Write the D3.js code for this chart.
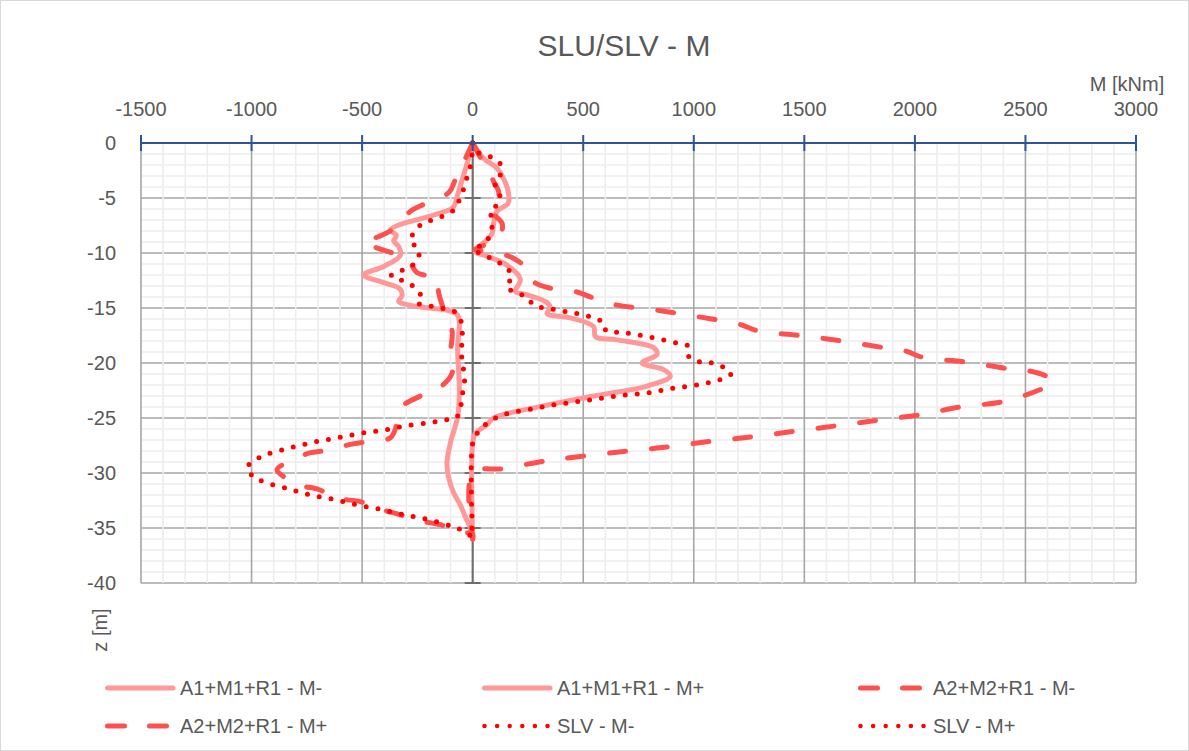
<!DOCTYPE html>
<html>
<head>
<meta charset="utf-8">
<script src="https://cdn.jsdelivr.net/npm/d3@7"></script>
<style>
  html, body { margin: 0; padding: 0; background: #ffffff; }
  svg { display: block; font-family: "Liberation Sans", Arial, sans-serif; }
</style>
</head>
<body>
<svg id="chart" width="1189" height="751"></svg>
<script>
// ---------------- DATA ----------------
const chartTitle = "SLU/SLV - M";
const xAxisTitle = "M [kNm]";
const yAxisTitle = "z [m]";
const xTicks = [-1500, -1000, -500, 0, 500, 1000, 1500, 2000, 2500, 3000];
const yTicks = [0, -5, -10, -15, -20, -25, -30, -35, -40];
const seriesNames = ["A1+M1+R1 - M-", "A1+M1+R1 - M+", "A2+M2+R1 - M-", "A2+M2+R1 - M+", "SLV - M-", "SLV - M+"];

// each point: [M (kNm), z (m)]
const a1Mminus = [[0,0],[-20,-1.5],[-42,-3],[-65,-4.5],[-86,-5.8],[-108,-6.1],[-220,-6.8],[-327,-7.4],[-372,-7.9],[-345,-8.4],[-357,-8.9],[-335,-9.4],[-327,-10.2],[-400,-11.2],[-493,-12.0],[-402,-12.7],[-327,-13.3],[-320,-13.9],[-335,-14.4],[-297,-14.7],[-200,-15.0],[-116,-15.2],[-70,-15.6],[-60,-16.4],[-68,-18.5],[-63,-20.9],[-60,-22.4],[-68,-24.9],[-100,-27.2],[-116,-29.0],[-110,-30.3],[-86,-31.8],[-56,-32.9],[-35,-33.9],[-10,-35.0],[0,-35.5]];
const a1Mplus = [[0,0],[50,-1.4],[110,-2.3],[148,-3.6],[163,-4.7],[160,-5.5],[110,-6.2],[95,-7.3],[88,-8.2],[60,-8.9],[35,-9.3],[12,-9.9],[65,-10.3],[155,-11.1],[216,-12.4],[193,-13.5],[246,-13.8],[336,-14.5],[351,-15.0],[336,-15.5],[442,-15.9],[547,-16.7],[555,-17.6],[653,-17.9],[818,-18.6],[834,-19.2],[766,-20.0],[863,-20.6],[894,-21.2],[788,-22.1],[547,-23.0],[321,-23.9],[95,-25.0],[65,-25.6],[12,-26.4],[0,-27.3],[0,-36]];
const a2Mminus = [[0,0],[-78,-3.3],[-108,-4.5],[-213,-5.5],[-281,-6.2],[-350,-7.7],[-424,-8.5],[-490,-9.0],[-410,-9.7],[-297,-10.5],[-251,-11.8],[-161,-12.3],[-154,-13.6],[-123,-15.6],[-93,-17.1],[-101,-19.2],[-93,-20.9],[-154,-22.3],[-236,-23.0],[-327,-24.1],[-342,-25.5],[-372,-26.8],[-455,-27.1],[-553,-27.4],[-643,-27.9],[-741,-28.2],[-824,-28.9],[-885,-29.7],[-850,-30.4],[-787,-31.1],[-696,-31.5],[-613,-32.3],[-508,-32.6],[-432,-33.2],[-327,-33.8],[-251,-34.3],[-146,-34.7],[-56,-35.3],[0,-35.6],[0,-36]];
const a2Mplus = [[0,0],[40,-1.5],[75,-2.7],[95,-3.5],[118,-4.5],[110,-5.3],[80,-6.1],[133,-7.3],[125,-8.3],[60,-9.2],[10,-9.7],[95,-9.9],[186,-10.5],[261,-11.7],[276,-12.6],[351,-13.2],[464,-13.5],[547,-14.1],[645,-14.7],[834,-15.2],[1022,-15.8],[1210,-16.5],[1293,-17.1],[1481,-17.5],[1670,-18.0],[1858,-18.6],[1956,-18.9],[2039,-19.5],[2227,-19.9],[2416,-20.5],[2514,-20.7],[2604,-21.3],[2625,-21.8],[2581,-22.3],[2401,-23.5],[2205,-24.0],[2024,-24.7],[1835,-25.2],[1648,-25.7],[1459,-26.2],[1270,-26.7],[1082,-27.1],[894,-27.6],[705,-28.0],[487,-28.5],[329,-28.9],[140,-29.6],[0,-30.0],[0,-36]];
const slvMminus = [[0,0],[-3,-1.1],[-10,-2.1],[-25,-3.1],[-41,-4.2],[-63,-5.3],[-86,-6.1],[-131,-6.6],[-184,-7.0],[-232,-7.4],[-267,-8.2],[-282,-8.9],[-244,-9.7],[-251,-10.7],[-297,-11.4],[-349,-11.8],[-369,-12.1],[-319,-12.5],[-270,-13.0],[-236,-13.8],[-251,-14.5],[-199,-14.8],[-146,-15.0],[-93,-15.2],[-60,-15.8],[-48,-16.8],[-48,-18.0],[-51,-19.0],[-45,-20.2],[-36,-21.2],[-41,-22.3],[-51,-23.3],[-56,-24.4],[-78,-25.0],[-131,-25.2],[-191,-25.4],[-297,-25.7],[-402,-26.1],[-508,-26.4],[-613,-26.8],[-719,-27.2],[-824,-27.7],[-930,-28.3],[-982,-28.8],[-1020,-29.5],[-993,-30.3],[-945,-30.8],[-839,-31.4],[-734,-32.0],[-628,-32.4],[-523,-32.9],[-417,-33.3],[-312,-33.8],[-206,-34.2],[-101,-34.8],[-48,-35.2],[-3,-35.8]];
const slvMplus = [[0,0],[27,-0.9],[75,-1.2],[122,-1.8],[130,-2.7],[99,-3.6],[121,-4.5],[118,-5.5],[80,-6.1],[88,-7.0],[83,-8.1],[55,-9.1],[20,-9.5],[5,-9.7],[55,-10.2],[103,-10.7],[150,-11.3],[178,-12.1],[154,-13.1],[197,-13.6],[243,-14.0],[281,-14.8],[336,-15.0],[389,-15.2],[442,-15.4],[495,-15.6],[547,-15.9],[595,-16.4],[604,-17.1],[656,-17.2],[710,-17.3],[815,-17.7],[924,-18.2],[977,-18.5],[977,-19.4],[1030,-19.9],[1082,-20.0],[1135,-20.4],[1168,-21.0],[1120,-21.5],[1015,-22.0],[904,-22.3],[800,-22.7],[693,-22.9],[585,-23.2],[477,-23.5],[369,-23.8],[261,-24.2],[155,-24.6],[103,-25.0],[57,-25.6],[20,-26.4],[0,-27.3],[0,-36]];

const seriesData = [a1Mminus, a1Mplus, a2Mminus, a2Mplus, slvMminus, slvMplus];

// ---------------- STYLES ----------------
const styles = [
  { color: "#ff9999", width: 5, dash: null },
  { color: "#ff9999", width: 5, dash: null },
  { color: "#ff5050", width: 5, dash: "16,26" },
  { color: "#ff5050", width: 5, dash: "16,26" },
  { color: "#ff0000", width: 5, dash: "0,12" },
  { color: "#ff0000", width: 5, dash: "0,12" }
];

const svg = d3.select("#chart");
const W = 1189, H = 751;
const plot = { left: 141, right: 1136, top: 143, bottom: 583 };

svg.append("rect").attr("x", 0.5).attr("y", 0.5).attr("width", W - 1).attr("height", H - 1)
  .attr("fill", "#ffffff").attr("stroke", "#d9d9d9");

const x = d3.scaleLinear().domain([-1500, 3000]).range([plot.left, plot.right]);
const y = d3.scaleLinear().domain([0, -40]).range([plot.top, plot.bottom]);

// grid
const g = svg.append("g");
const majorX = xTicks, majorY = yTicks;
const minorX = d3.range(-1500, 3001, 100).filter(v => v % 500 !== 0);
const minorY = d3.range(0, -41, -1).filter(v => v % 5 !== 0);

g.selectAll(".majh").data(majorY).enter().append("line")
  .attr("x1", plot.left).attr("x2", plot.right)
  .attr("y1", d => y(d)).attr("y2", d => y(d))
  .attr("stroke", "#a6a6a6").attr("stroke-width", 1.6);
g.selectAll(".minv").data(minorX).enter().append("line")
  .attr("x1", d => x(d)).attr("x2", d => x(d))
  .attr("y1", plot.top).attr("y2", plot.bottom)
  .attr("stroke", "#ededed").attr("stroke-width", 1.6);
g.selectAll(".minh").data(minorY).enter().append("line")
  .attr("x1", plot.left).attr("x2", plot.right)
  .attr("y1", d => y(d)).attr("y2", d => y(d))
  .attr("stroke", "#ededed").attr("stroke-width", 1.6);
g.selectAll(".majv").data(majorX).enter().append("line")
  .attr("x1", d => x(d)).attr("x2", d => x(d))
  .attr("y1", plot.top).attr("y2", plot.bottom)
  .attr("stroke", "#a6a6a6").attr("stroke-width", 1.6);

// vertical axis at M = 0
const yAxisG = svg.append("g").attr("transform", `translate(${x(0)},0)`);
yAxisG.append("line").attr("x1", 0).attr("x2", 0).attr("y1", plot.top).attr("y2", plot.bottom)
  .attr("stroke", "#6e6e6e").attr("stroke-width", 2);
yAxisG.selectAll(".yt").data(yTicks).enter().append("line")
  .attr("x1", -8).attr("x2", 8).attr("y1", d => y(d)).attr("y2", d => y(d))
  .attr("stroke", "#6e6e6e").attr("stroke-width", 2);

// y tick labels (low position, left of plot)
svg.append("g").selectAll("text").data(yTicks).enter().append("text")
  .attr("x", 116).attr("y", d => y(d)).attr("dy", "0.35em")
  .attr("text-anchor", "end").attr("fill", "#595959").attr("font-size", 20)
  .text(d => d);

// series
const line = d3.line().x(d => x(d[0])).y(d => y(d[1])).curve(d3.curveCatmullRom.alpha(0.5));
const sg = svg.append("g");
seriesData.forEach((data, i) => {
  const s = styles[i];
  sg.append("path").datum(data)
    .attr("d", line)
    .attr("fill", "none")
    .attr("stroke", s.color)
    .attr("stroke-width", s.width)
    .attr("stroke-linecap", "round")
    .attr("stroke-linejoin", "round")
    .attr("stroke-dasharray", s.dash);
});

// top x axis
const xAxisG = svg.append("g");
xAxisG.append("line").attr("x1", plot.left).attr("x2", plot.right).attr("y1", plot.top).attr("y2", plot.top)
  .attr("stroke", "#2f5597").attr("stroke-width", 2);
xAxisG.selectAll(".xt").data(xTicks).enter().append("line")
  .attr("x1", d => x(d)).attr("x2", d => x(d)).attr("y1", plot.top - 8).attr("y2", plot.top + 8)
  .attr("stroke", "#2f5597").attr("stroke-width", 2);
xAxisG.selectAll("text").data(xTicks).enter().append("text")
  .attr("x", d => x(d)).attr("y", 109).attr("dy", "0.35em")
  .attr("text-anchor", "middle").attr("fill", "#595959").attr("font-size", 20)
  .text(d => d);

// titles
svg.append("text").attr("x", 624).attr("y", 45).attr("dy", "0.35em")
  .attr("text-anchor", "middle").attr("fill", "#595959").attr("font-size", 30)
  .text(chartTitle);
svg.append("text").attr("x", 1127).attr("y", 84).attr("dy", "0.35em")
  .attr("text-anchor", "middle").attr("fill", "#595959").attr("font-size", 20)
  .text(xAxisTitle);
svg.append("text").attr("transform", "translate(100,630) rotate(-90)").attr("dy", "0.35em")
  .attr("text-anchor", "middle").attr("fill", "#595959").attr("font-size", 20)
  .text(yAxisTitle);

// legend
const legCols = [105, 482, 858];
const legRows = [688, 726];
const lg = svg.append("g");
seriesNames.forEach((name, i) => {
  const cx = legCols[i % 3], cy = legRows[Math.floor(i / 3)];
  const s = styles[i];
  const dotted = s.dash && s.dash.startsWith("0");
  lg.append("line")
    .attr("x1", cx + 2.5).attr("x2", cx + 68)
    .attr("y1", cy).attr("y2", cy)
    .attr("stroke", s.color).attr("stroke-width", dotted ? 4.5 : 5)
    .attr("stroke-linecap", "round")
    .attr("stroke-dasharray", s.dash ? (dotted ? "0,12.6" : "17,25") : null);
  lg.append("text").attr("x", cx + 75).attr("y", cy).attr("dy", "0.35em")
    .attr("fill", "#595959").attr("font-size", 20)
    .text(name);
});
</script>
</body>
</html>
